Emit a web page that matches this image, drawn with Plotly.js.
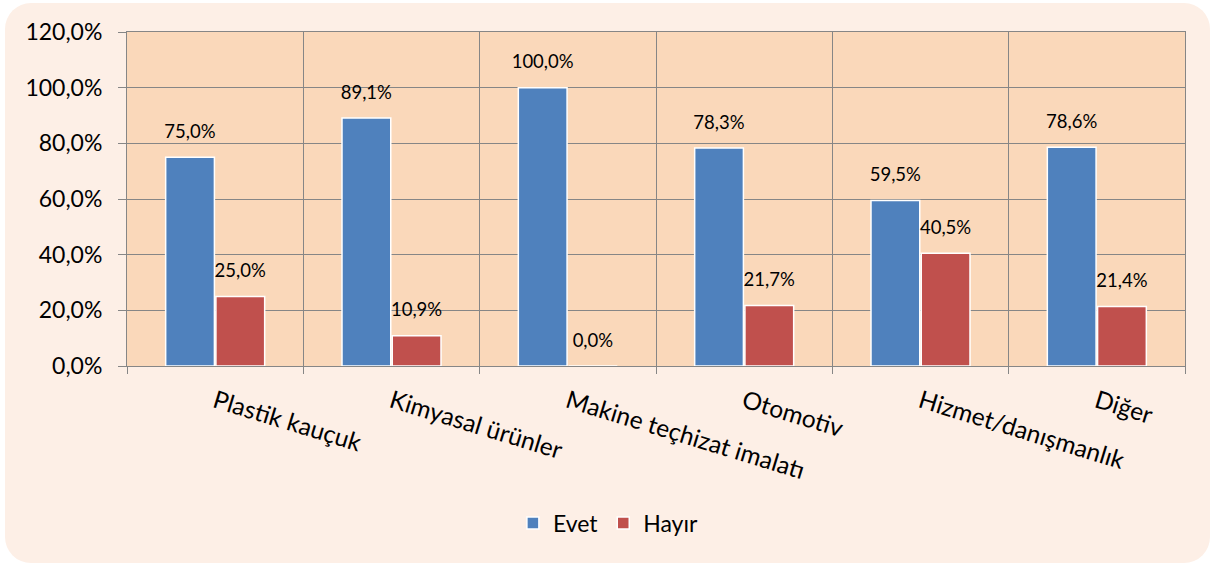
<!DOCTYPE html>
<html>
<head>
<meta charset="utf-8">
<script src="https://cdn.plot.ly/plotly-3.0.1.min.js"></script>
<style>
  html, body { margin: 0; padding: 0; background: #ffffff; }
  #frame { position: absolute; left: 5px; top: 3px; width: 1205px; height: 560px; background: #FDEFE6; border-radius: 26px; }
  #chart { position: absolute; left: 0; top: 0; width: 1211px; height: 565px; }
</style>
</head>
<body>
<div id="frame"></div>
<div id="chart"></div>
<script>
const categories = ["Plastik kauçuk", "Kimyasal ürünler", "Makine teçhizat imalatı", "Otomotiv", "Hizmet/danışmanlık", "Diğer"];
const evet = [75.0, 89.1, 100.0, 78.3, 59.5, 78.6];
const hayir = [25.0, 10.9, 0.0, 21.7, 40.5, 21.4];
const seriesNames = ["Evet", "Hayır"];
const yTicks = [0, 20, 40, 60, 80, 100, 120];
const yTickText = ["0,0%", "20,0%", "40,0%", "60,0%", "80,0%", "100,0%", "120,0%"];

const FONT = "Lato, 'Open Sans', sans-serif";

function barTrace(name, values, color) {
  return {
    type: 'bar',
    name: name,
    x: categories,
    y: values,
    textposition: 'outside',
    constraintext: 'none',
    texttemplate: '<span style="font-size:18.5px">%{y:.1f}%</span><br> ',
    textfont: { family: FONT, size: 11, color: '#000000' },
    cliponaxis: false,
    marker: { color: color, line: { color: '#FFFFFF', width: 1.5 } }
  };
}

const data = [
  barTrace(seriesNames[0], evet, '#4F81BD'),
  barTrace(seriesNames[1], hayir, '#C0504D')
];

const layout = {
  width: 1211, height: 565,
  margin: { l: 127, r: 26, t: 32, b: 199 },
  paper_bgcolor: 'rgba(0,0,0,0)',
  plot_bgcolor: '#FAD8BA',
  separators: ',.',
  barmode: 'group',
  bargap: 0.43,
  bargroupgap: 0.03,
  font: { family: FONT, color: '#000000' },
  showlegend: true,
  legend: {
    orientation: 'h', x: 0.455, xanchor: 'center', y: -0.47, yanchor: 'middle',
    font: { family: FONT, size: 23, color: '#000000' },
    bgcolor: 'rgba(0,0,0,0)'
  },
  xaxis: {
    type: 'category',
    tickson: 'boundaries',
    showgrid: true, gridcolor: '#868686', gridwidth: 1,
    showline: true, linecolor: '#868686', linewidth: 1, mirror: true,
    ticks: 'outside', ticklen: 7, tickcolor: '#868686',
    tickangle: 17,
    tickfont: { family: FONT, size: 24.5, color: '#000000' },
    ticklabelstandoff: 11
  },
  yaxis: {
    range: [0, 120],
    tickmode: 'array',
    tickvals: yTicks,
    ticktext: yTickText,
    showgrid: true, gridcolor: '#868686', gridwidth: 1,
    showline: true, linecolor: '#868686', linewidth: 1, mirror: true,
    zeroline: false,
    ticks: 'outside', ticklen: 8, tickcolor: '#868686',
    ticklabelstandoff: 11,
    tickfont: { family: FONT, size: 23, color: '#000000' }
  }
};

Plotly.newPlot('chart', data, layout, { displayModeBar: false, staticPlot: true });
</script>
</body>
</html>
